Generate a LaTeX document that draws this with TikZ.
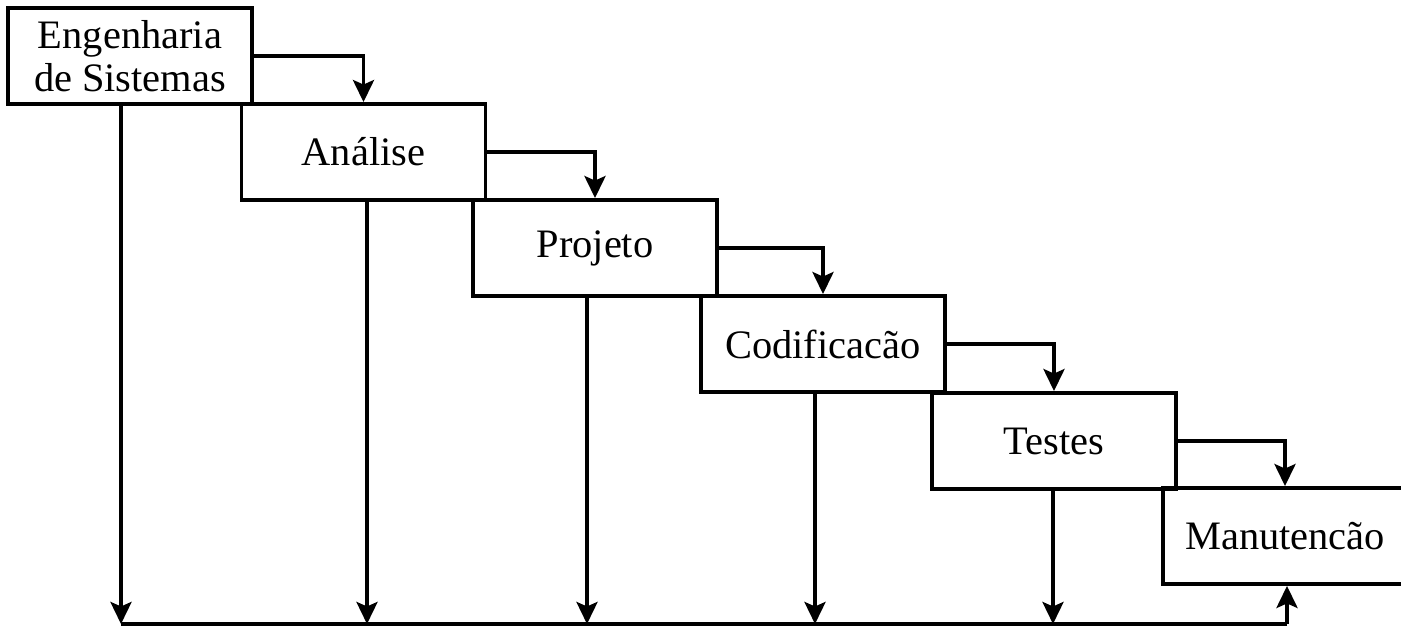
\documentclass[tikz,border=0pt]{standalone}
\usepackage{fontspec}
\setmainfont{Liberation Serif}
\usetikzlibrary{arrows.meta,positioning}
\tikzset{
  phase/.style={draw,line width=2.2pt,minimum width=4.88cm,minimum height=1.92cm,
    inner sep=0pt,align=center,font=\fontsize{23}{24.5}\selectfont},
  flow/.style={line width=2.2pt,-{Stealth[length=4.4mm,width=4.2mm,inset=0.9mm]}}
}

\begin{document}
\begin{tikzpicture}
    \useasboundingbox (0,0) rectangle (28.02,-12.54);
    \node[phase] (eng) at (2.6,-1.12) {Engenharia\\de Sistemas};
    \node[phase] (ana) at (7.27,-3.04) {Análise};
    \node[phase] (proj) at (11.9,-4.96) {Projeto};
    \node[phase] (cod) at (16.46,-6.88) {Codificacão};
    \node[phase] (test) at (21.08,-8.82) {Testes};
    \node[phase] (man) at (25.7,-10.72) {Manutencão};
    % cascade
    \draw[flow] (eng.east) -| (ana.north);
    \draw[flow] (ana.east) -| (proj.north);
    \draw[flow] (proj.east) -| (cod.north);
    \draw[flow] (cod.east) -| (test.north);
    \draw[flow] (test.east) -| (man.north);
    % feedback line at the bottom
    \coordinate (d1) at (2.42,-12.48);
    \coordinate (d2) at (7.34,-12.48);
    \coordinate (d3) at (11.74,-12.48);
    \coordinate (d4) at (16.3,-12.48);
    \coordinate (d5) at (21.06,-12.48);
    \coordinate (d6) at (25.74,-12.48);
    \draw[flow] (d1 |- eng.south) -- (d1);
    \draw[flow] (d2 |- ana.south) -- (d2);
    \draw[flow] (d3 |- proj.south) -- (d3);
    \draw[flow] (d4 |- cod.south) -- (d4);
    \draw[flow] (d5 |- test.south) -- (d5);
    \draw[line width=2.2pt] (d1) -- (d6);
    \draw[flow] (d6) -- (d6 |- man.south);
\end{tikzpicture}
\end{document}
